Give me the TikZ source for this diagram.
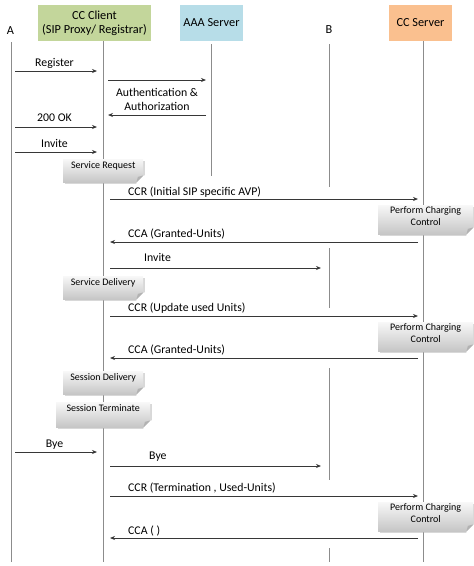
\documentclass[tikz,border=0pt]{standalone}
\usepackage{fontspec}
\setmainfont{Carlito}
\usetikzlibrary{arrows.meta,positioning,shadows,calc}
\definecolor{clientgreen}{RGB}{195,214,155}
\definecolor{aaablue}{RGB}{183,221,232}
\definecolor{serverorange}{RGB}{250,192,143}
\definecolor{lifegray}{RGB}{140,140,140}
\definecolor{msgdark}{RGB}{55,55,55}
\tikzset{
    % participants and their lifelines
    actor/.style={
        rectangle, inner sep=0pt, align=center,
        font=\fontsize{12.3}{14}\selectfont
    },
    lifeline/.style={
        draw=lifegray, line width=0.8pt
    },
    % messages
    msg/.style={
        -{Stealth[length=5pt,width=4pt]}, draw=msgdark, line width=0.8pt
    },
    msglabel/.style={
        inner sep=0pt, anchor=base west, align=center,
        font=\fontsize{11.8}{14}\selectfont
    },
    % grey notes with a folded corner
    notebox/.style={
        rectangle, inner sep=0pt, top color=gray!6, bottom color=gray!45,
        drop shadow={shadow xshift=1.5pt, shadow yshift=-1.5pt, fill=gray!60, opacity=0.5}
    },
    notetext/.style={
        inner sep=0pt, align=center, font=\fontsize{10}{12}\selectfont
    }
}
\newcommand{\foldcorner}[1]{%
    \fill[white] ($(#1.south east)+(-7,0.2)$) -- ($(#1.south east)+(0.2,-7)$)
        -- ($(#1.south east)+(3,-7)$) -- ($(#1.south east)+(3,3)$)
        -- ($(#1.south east)+(-7,3)$) -- cycle;
    \fill[gray!60] ($(#1.south east)+(-7,0)$) -- ($(#1.south east)+(0,-7)$)
        -- ($(#1.south east)+(-5.5,-5.5)$) -- cycle;
}
\begin{document}
\begin{tikzpicture}[x=1pt, y=-1pt]
\useasboundingbox (0,0) rectangle (474,566);

% Participants
\node[actor] (actA) at (10.5,31) {A};
\node[actor, fill=clientgreen, minimum width=113, minimum height=36] (client) at (94.5,23) {CC Client\\(SIP Proxy/ Registrar)};
\node[actor, fill=aaablue, minimum width=63, minimum height=36] (aaa) at (211.5,23) {AAA Server};
\node[actor] (actB) at (329,30) {B};
\node[actor, fill=serverorange, minimum width=63, minimum height=36] (server) at (420.5,23) {CC Server};

% Lifelines
\coordinate (A-top) at (11,42);
\coordinate (A-bot) at (11,562);
\coordinate (client-top) at (103,41);
\coordinate (client-bot) at (103,562);
\coordinate (aaa-top) at (211,44);
\coordinate (aaa-bot) at (211,176);
\coordinate (server-top) at (423,41);
\coordinate (server-bot) at (423,562);
\draw[lifeline] (A-top) -- (A-bot);
\draw[lifeline] (client-top) -- (client-bot);
\draw[lifeline] (aaa-top) -- (aaa-bot);
\draw[lifeline] (server-top) -- (server-bot);
\draw[lifeline] (329,44) -- (329,187);
\draw[lifeline] (329,248) -- (329,308);
\draw[lifeline] (329,368) -- (329,480);
\draw[lifeline] (329,548) -- (329,562);

% Notes
\node[notebox, minimum width=80, minimum height=23, anchor=north west] (srvreq) at (63,159) {};
\node[notetext, below=2pt of srvreq.north] (srvreq-t) {Service Request};
\foldcorner{srvreq}
\node[notebox, minimum width=95, minimum height=29, anchor=north west] (charge1) at (378,205) {};
\node[notetext, below=1pt of charge1.north] (charge1-t) {Perform Charging\\Control};
\foldcorner{charge1}
\node[notebox, minimum width=80, minimum height=23, anchor=north west] (srvdel) at (63,276) {};
\node[notetext, below=2pt of srvdel.north] (srvdel-t) {Service Delivery};
\foldcorner{srvdel}
\node[notebox, minimum width=95, minimum height=29, anchor=north west] (charge2) at (378,322) {};
\node[notetext, below=1pt of charge2.north] (charge2-t) {Perform Charging\\Control};
\foldcorner{charge2}
\node[notebox, minimum width=80, minimum height=23, anchor=north west] (sesdel) at (63,371) {};
\node[notetext, below=2pt of sesdel.north] (sesdel-t) {Session Delivery};
\foldcorner{sesdel}
\node[notebox, minimum width=94, minimum height=25, anchor=north west] (sester) at (56,402) {};
\node[notetext, below=2pt of sester.north] (sester-t) {Session Terminate};
\foldcorner{sester}
\node[notebox, minimum width=95, minimum height=29, anchor=north west] (charge3) at (378,502) {};
\node[notetext, below=1pt of charge3.north] (charge3-t) {Perform Charging\\Control};
\foldcorner{charge3}

% Registration
\coordinate (reg-s) at (15,71);
\coordinate (reg-e) at (97,71);
\draw[msg] (reg-s) -- (reg-e);
\node[msglabel, anchor=base] (reg-l) at (54.5,66) {Register};
\coordinate (auth-s) at (108,80);
\coordinate (auth-e) at (206,80);
\draw[msg] (auth-s) -- (auth-e);
\node[msglabel, anchor=center] (auth-l) at (157,99) {Authentication \&\\Authorization};
\coordinate (authok-s) at (206,115);
\coordinate (authok-e) at (108,115);
\draw[msg] (authok-s) -- (authok-e);
\coordinate (ok-s) at (15,127);
\coordinate (ok-e) at (97,127);
\draw[msg] (ok-s) -- (ok-e);
\node[msglabel, anchor=base] (ok-l) at (54.5,121.5) {200 OK};
\coordinate (inv-s) at (15,152);
\coordinate (inv-e) at (97,152);
\draw[msg] (inv-s) -- (inv-e);
\node[msglabel, anchor=base] (inv-l) at (54.5,147) {Invite};

% Initial credit control
\coordinate (ccr1-s) at (110,199);
\coordinate (ccr1-e) at (418,199);
\draw[msg] (ccr1-s) -- (ccr1-e);
\node[msglabel] (ccr1-l) at (128,195.5) {CCR (Initial SIP specific AVP)};
\coordinate (cca1-s) at (418,242);
\coordinate (cca1-e) at (110,242);
\draw[msg] (cca1-s) -- (cca1-e);
\node[msglabel] (cca1-l) at (128,237.5) {CCA (Granted-Units)};
\coordinate (invb-s) at (110,268);
\coordinate (invb-e) at (321,268);
\draw[msg] (invb-s) -- (invb-e);
\node[msglabel] (invb-l) at (144,261.5) {Invite};

% Update
\coordinate (ccr2-s) at (110,316);
\coordinate (ccr2-e) at (418,316);
\draw[msg] (ccr2-s) -- (ccr2-e);
\node[msglabel] (ccr2-l) at (128,311.5) {CCR (Update used Units)};
\coordinate (cca2-s) at (418,358);
\coordinate (cca2-e) at (110,358);
\draw[msg] (cca2-s) -- (cca2-e);
\node[msglabel] (cca2-l) at (128,353.5) {CCA (Granted-Units)};

% Termination
\coordinate (bye-s) at (15,452);
\coordinate (bye-e) at (97,452);
\draw[msg] (bye-s) -- (bye-e);
\node[msglabel, anchor=base] (bye-l) at (54.5,447.5) {Bye};
\coordinate (byeb-s) at (110,466);
\coordinate (byeb-e) at (321,466);
\draw[msg] (byeb-s) -- (byeb-e);
\node[msglabel] (byeb-l) at (149,459.5) {Bye};
\coordinate (ccr3-s) at (110,496);
\coordinate (ccr3-e) at (418,496);
\draw[msg] (ccr3-s) -- (ccr3-e);
\node[msglabel] (ccr3-l) at (128,491.5) {CCR (Termination , Used-Units)};
\coordinate (cca3-s) at (418,538);
\coordinate (cca3-e) at (110,538);
\draw[msg] (cca3-s) -- (cca3-e);
\node[msglabel] (cca3-l) at (128,534.5) {CCA ( )};

\end{tikzpicture}
\end{document}
